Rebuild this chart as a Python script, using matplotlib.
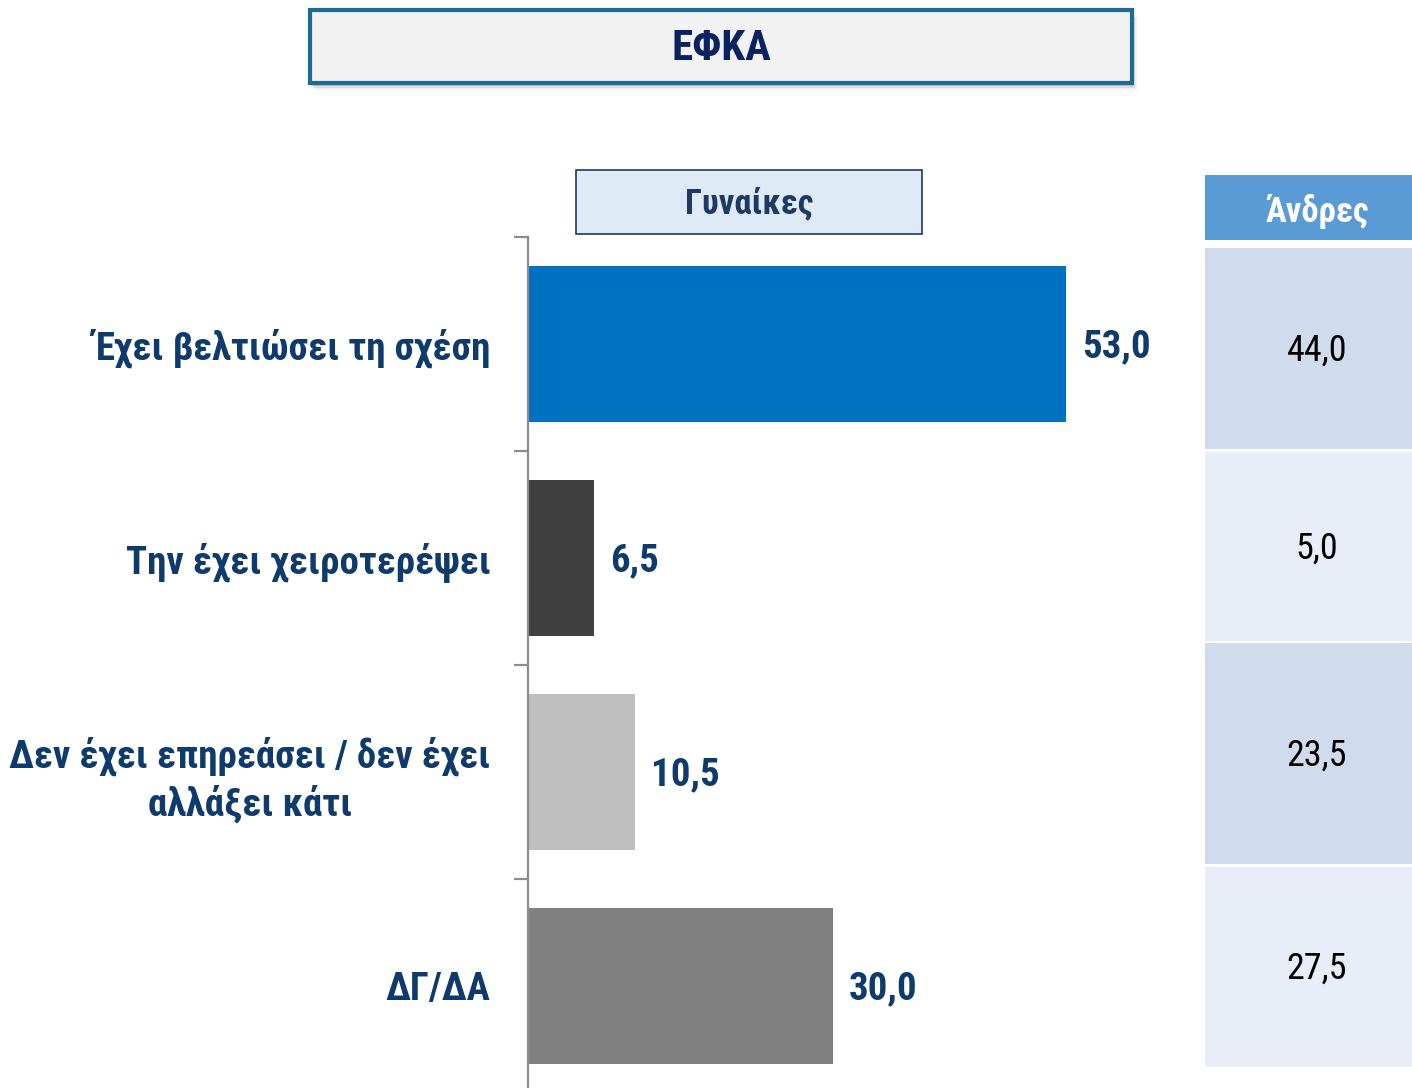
import numpy as np
import matplotlib.pyplot as plt
from matplotlib.patches import Rectangle

plt.rcParams['font.family'] = ['Roboto Condensed', 'DejaVu Sans']

# data
categories = ["Έχει βελτιώσει τη σχέση",
              "Την έχει χειροτερέψει",
              "Δεν έχει επηρεάσει / δεν έχει\nαλλάξει κάτι",
              "ΔΓ/ΔΑ"]
women = [53.0, 6.5, 10.5, 30.0]
men = [44.0, 5.0, 23.5, 27.5]
title = "ΕΦΚΑ"
women_label = "Γυναίκες"
men_label = "Άνδρες"

bar_colors = ["#0070C0", "#404040", "#BFBFBF", "#808080"]
navy = "#0E3A6C"

W, H = 1412, 1088
fig = plt.figure(figsize=(W / 100, H / 100), dpi=100)

# overlay in pixel coords for boxes and the table
ov = fig.add_axes([0, 0, 1, 1])
ov.set_xlim(0, W)
ov.set_ylim(H, 0)
ov.axis("off")


def box(x0, y0, x1, y1, **kw):
    ov.add_patch(Rectangle((x0, y0), x1 - x0, y1 - y0, **kw))


def fmt(v):
    return f"{v:.1f}".replace(".", ",")


# title box with soft shadow
for k, a in [(7, 0.12), (5, 0.2), (3, 0.3)]:
    box(310 + k - 2, 10 + k, 1132 + k - 2, 83 + k, facecolor="#8a8a8a",
        edgecolor="none", alpha=a)
box(310, 10, 1132, 83, facecolor="#F2F2F2", edgecolor="#1D6A96", linewidth=3)
ov.text(721, 48, title, ha="center", va="center", fontsize=31,
        fontweight="bold", color="#0A2360")

# women header box
box(576, 170, 922, 234, facecolor="#DEEAF6", edgecolor="#1F3864", linewidth=1.2)
ov.text(749, 203, women_label, ha="center", va="center", fontsize=25,
        fontweight="bold", color="#1F3864")

# men table
box(1205, 175, 1412, 240, facecolor="#5B9BD5", edgecolor="none")
ov.text(1317, 211, men_label, ha="center", va="center", fontsize=25,
        fontweight="bold", color="white")
rows = [(248, 449), (452, 641), (643, 864), (867, 1067)]
row_colors = ["#D0DCEE", "#E8EDF7"]
for i, (val, (y0, y1)) in enumerate(zip(men, rows)):
    box(1205, y0, 1412, y1, facecolor=row_colors[i % 2], edgecolor="none")
    ov.text(1317, (y0 + y1) / 2 + 2, fmt(val), ha="center", va="center",
            fontsize=26, color="black")

# bar chart
ax = fig.add_axes([528 / W, -5 / H, (1190 - 528) / W, (1093 - 237) / H])
ax.patch.set_alpha(0)
y = np.arange(len(categories))
ax.barh(y, women, height=0.733, color=bar_colors)
ax.set_xlim(0, 662 / 10.15)
ax.set_ylim(3.5, -0.5)
for i, v in enumerate(women):
    ax.text(v + 1.6, i + 0.012, fmt(v), ha="left", va="center", fontsize=28,
            fontweight="bold", color=navy)

for s in ["top", "right", "bottom"]:
    ax.spines[s].set_visible(False)
ax.spines["left"].set_color("#8C8C8C")
ax.spines["left"].set_linewidth(1.6)
ax.set_xticks([])
ax.set_yticks(y)
ax.set_yticklabels(categories, fontsize=28, fontweight="bold", color=navy,
                   multialignment="center", linespacing=1.3)
ax.tick_params(axis="y", which="major", length=0, pad=27)
ax.set_yticks(np.arange(-0.5, 4, 1), minor=True)
ax.tick_params(axis="y", which="minor", length=10, width=1.6, color="#8C8C8C")

plt.savefig("out.png", dpi=100)
